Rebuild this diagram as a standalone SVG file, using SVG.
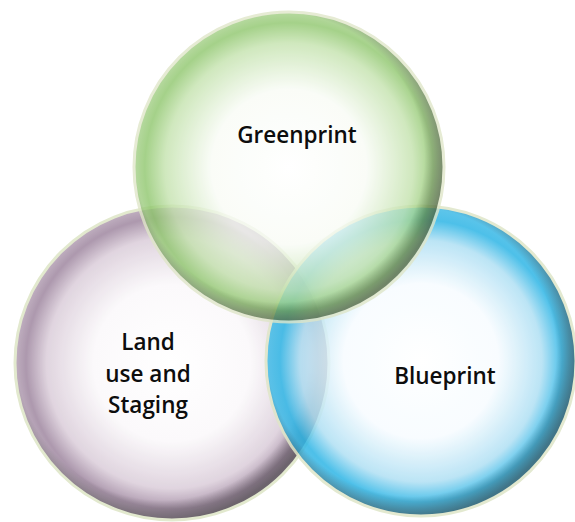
<svg xmlns="http://www.w3.org/2000/svg" width="575" height="522" viewBox="0 0 575 522">
<style>
.lbl{font-family:"Open Sans","Liberation Sans",sans-serif;font-weight:600;font-size:22.5px;fill:#0d0d0d;text-anchor:middle}
.rim{fill:none;stroke:#dfe6c8;stroke-width:3}
</style>
<defs>
<radialGradient id="gG" cx="50%" cy="50%" r="50%">
<stop offset="0" stop-color="#ffffff"/><stop offset="0.5" stop-color="#f9fcf6"/><stop offset="0.8" stop-color="#c3e2ac"/><stop offset="0.93" stop-color="#8cc569"/><stop offset="1" stop-color="#a3cf86"/>
</radialGradient>
<radialGradient id="gP" cx="50%" cy="50%" r="50%">
<stop offset="0" stop-color="#ffffff"/><stop offset="0.5" stop-color="#fbf9fb"/><stop offset="0.8" stop-color="#dccfdb"/><stop offset="0.93" stop-color="#a28ba3"/><stop offset="1" stop-color="#b8a5b8"/>
</radialGradient>
<radialGradient id="gB" cx="50%" cy="50%" r="50%">
<stop offset="0" stop-color="#ffffff"/><stop offset="0.5" stop-color="#f7fcff"/><stop offset="0.78" stop-color="#b0e0f4"/><stop offset="0.91" stop-color="#2fb6e6"/><stop offset="1" stop-color="#45bce7"/>
</radialGradient>
<radialGradient id="sh" cx="47%" cy="47%" r="53%">
<stop offset="0.88" stop-color="#000" stop-opacity="0"/><stop offset="0.96" stop-color="#000" stop-opacity="0.35"/><stop offset="1" stop-color="#000" stop-opacity="0.5"/>
</radialGradient>
</defs>
<g id="land-use" opacity="0.88">
<circle cx="172" cy="363" r="157" fill="url(#gP)"/>
<circle cx="172" cy="363" r="157" fill="url(#sh)"/>
<circle cx="172" cy="363" r="157" class="rim"/>
</g>
<g id="blueprint" opacity="0.85">
<circle cx="421" cy="361" r="155" fill="url(#gB)"/>
<circle cx="421" cy="361" r="155" fill="url(#sh)"/>
<circle cx="421" cy="361" r="155" class="rim"/>
</g>
<g id="greenprint" opacity="0.78">
<circle cx="289" cy="167" r="155" fill="url(#gG)"/>
<circle cx="289" cy="167" r="155" fill="url(#sh)"/>
<circle cx="289" cy="167" r="155" class="rim"/>
</g>
<g id="labels">
<text class="lbl" x="297" y="143">Greenprint</text>
<text class="lbl" x="148" y="350">Land</text>
<text class="lbl" x="148" y="382">use and</text>
<text class="lbl" x="148" y="413">Staging</text>
<text class="lbl" x="445" y="384">Blueprint</text>
</g>
</svg>
